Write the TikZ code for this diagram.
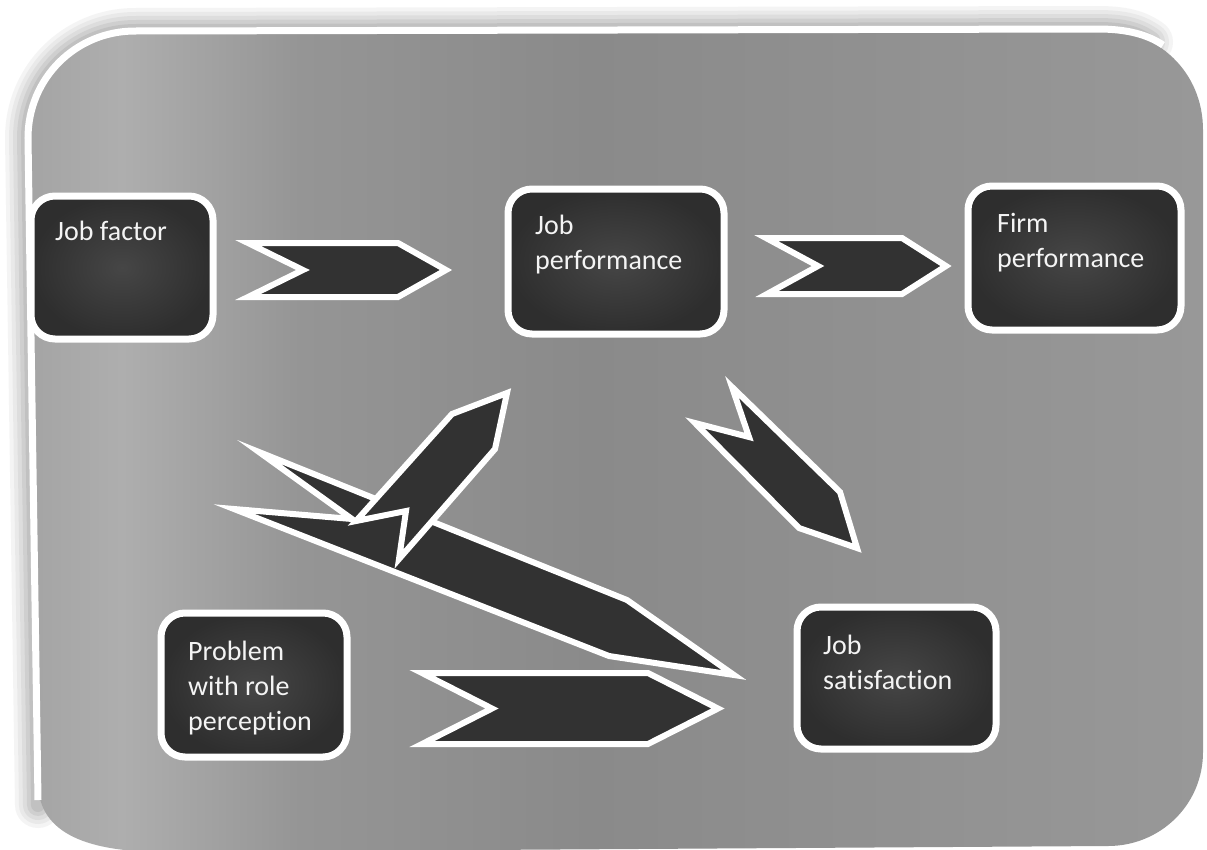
\documentclass[tikz,border=0pt]{standalone}
\usepackage{fontspec}
\setmainfont{Carlito}[Ligatures=NoCommon]
\definecolor{pa}{HTML}{A4A4A4}
\definecolor{pb}{HTML}{AEAEAE}
\definecolor{pc}{HTML}{959595}
\definecolor{pd}{HTML}{8A8A8A}
\definecolor{pe}{HTML}{989898}
\definecolor{bandgray}{HTML}{A8A8A8}
\definecolor{boxin}{HTML}{464646}
\definecolor{boxout}{HTML}{2E2E2E}
\definecolor{arrowfill}{HTML}{323232}
\definecolor{txt}{HTML}{F4F4F4}
\pgfdeclarehorizontalshading{panelsh}{100bp}{color(0bp)=(pa); color(25bp)=(pa); color(29bp)=(pb); color(36.6bp)=(pc); color(49bp)=(pd); color(75bp)=(pe); color(100bp)=(pe)}
\tikzset{
  box/.style={shape=rectangle, draw=white, line width=7pt, rounded corners=24pt,
    inner color=boxin, outer color=boxout},
  lbl/.style={text=txt, font=\fontsize{28}{35}\selectfont, align=left,
    inner sep=0pt, anchor=north west},
  chev/.style={draw=white, line width=6pt, fill=arrowfill, line join=miter, miter limit=30},
  rim/.style={line cap=round, line join=round}
}
\begin{document}
\begin{tikzpicture}[x=1pt,y=-1pt]
\useasboundingbox (0,0) rectangle (1207,849);
\fill[white] (0,0) rectangle (1207,849);
% outer scan shadow (soft blur along top and left edge)
\foreach \w/\o in {46/.12, 38/.14, 30/.18, 22/.25, 14/.35}{
  \draw[rim, bandgray, line width=\w pt, opacity=\o] (38,805) -- (28,138)
    .. controls (28,78) and (76,31) .. (135,31) -- (1098,29)
    .. controls (1128,29) and (1140,35) .. (1150,42);
}
% panel
\shade[shading=panelsh] (28,138) .. controls (28,78) and (76,31) .. (135,31) -- (1098,29)
  .. controls (1158,29) and (1203,72) .. (1203,130) -- (1203,752)
  .. controls (1203,805) and (1160,846) .. (1108,846) -- (165,852)
  .. controls (90,852) and (38,835) .. (38,782) -- cycle;
\draw[white, line width=7pt] (38,800) -- (28,138) .. controls (28,78) and (76,31) .. (135,31)
  -- (1098,29) .. controls (1128,29) and (1148,35) .. (1163,45);
% boxes
\node[box, minimum width=182pt, minimum height=143pt] (jf) at (122,267.5) {};
\node[box, minimum width=216pt, minimum height=145pt] (jp) at (616,261.5) {};
\node[box, minimum width=213pt, minimum height=144pt] (fp) at (1074.5,258) {};
\node[box, minimum width=186pt, minimum height=144pt] (pr) at (254,685) {};
\node[box, minimum width=199pt, minimum height=142pt] (js) at (896.5,678) {};
% labels
\node[lbl] (jft) at (55,221) {Job factor};
\node[lbl] (jpt) at (535,215) {Job\\performance};
\node[lbl] (fpt) at (997,213) {Firm\\performance};
\node[lbl] (prt) at (188,641) {Problem\\with role\\perception};
\node[lbl] (jst) at (823,635) {Job\\satisfaction};
% block arrows
\draw[chev] (248,243) -- (398,243) -- (446,270) -- (398,297) -- (248,297) -- (303,270) -- cycle;
\draw[chev] (766,238) -- (902,238) -- (946,266) -- (902,294) -- (767,294) -- (818,266) -- cycle;
\draw[chev] (422,673) -- (648,673) -- (718,708.5) -- (648,744) -- (422,744) -- (492,708.5) -- cycle;
\draw[chev] (732,387) -- (840,492) -- (857,548) -- (799,528) -- (695,423) -- (749,437) -- cycle;
\draw[chev] (259,452) -- (627,600) -- (734,675) -- (609,656) -- (234,509) -- (352,519) -- cycle;
\draw[chev] (507,393) -- (495,449) -- (399,559) -- (406,511) -- (356,521) -- (452,414) -- cycle;
\end{tikzpicture}
\end{document}
